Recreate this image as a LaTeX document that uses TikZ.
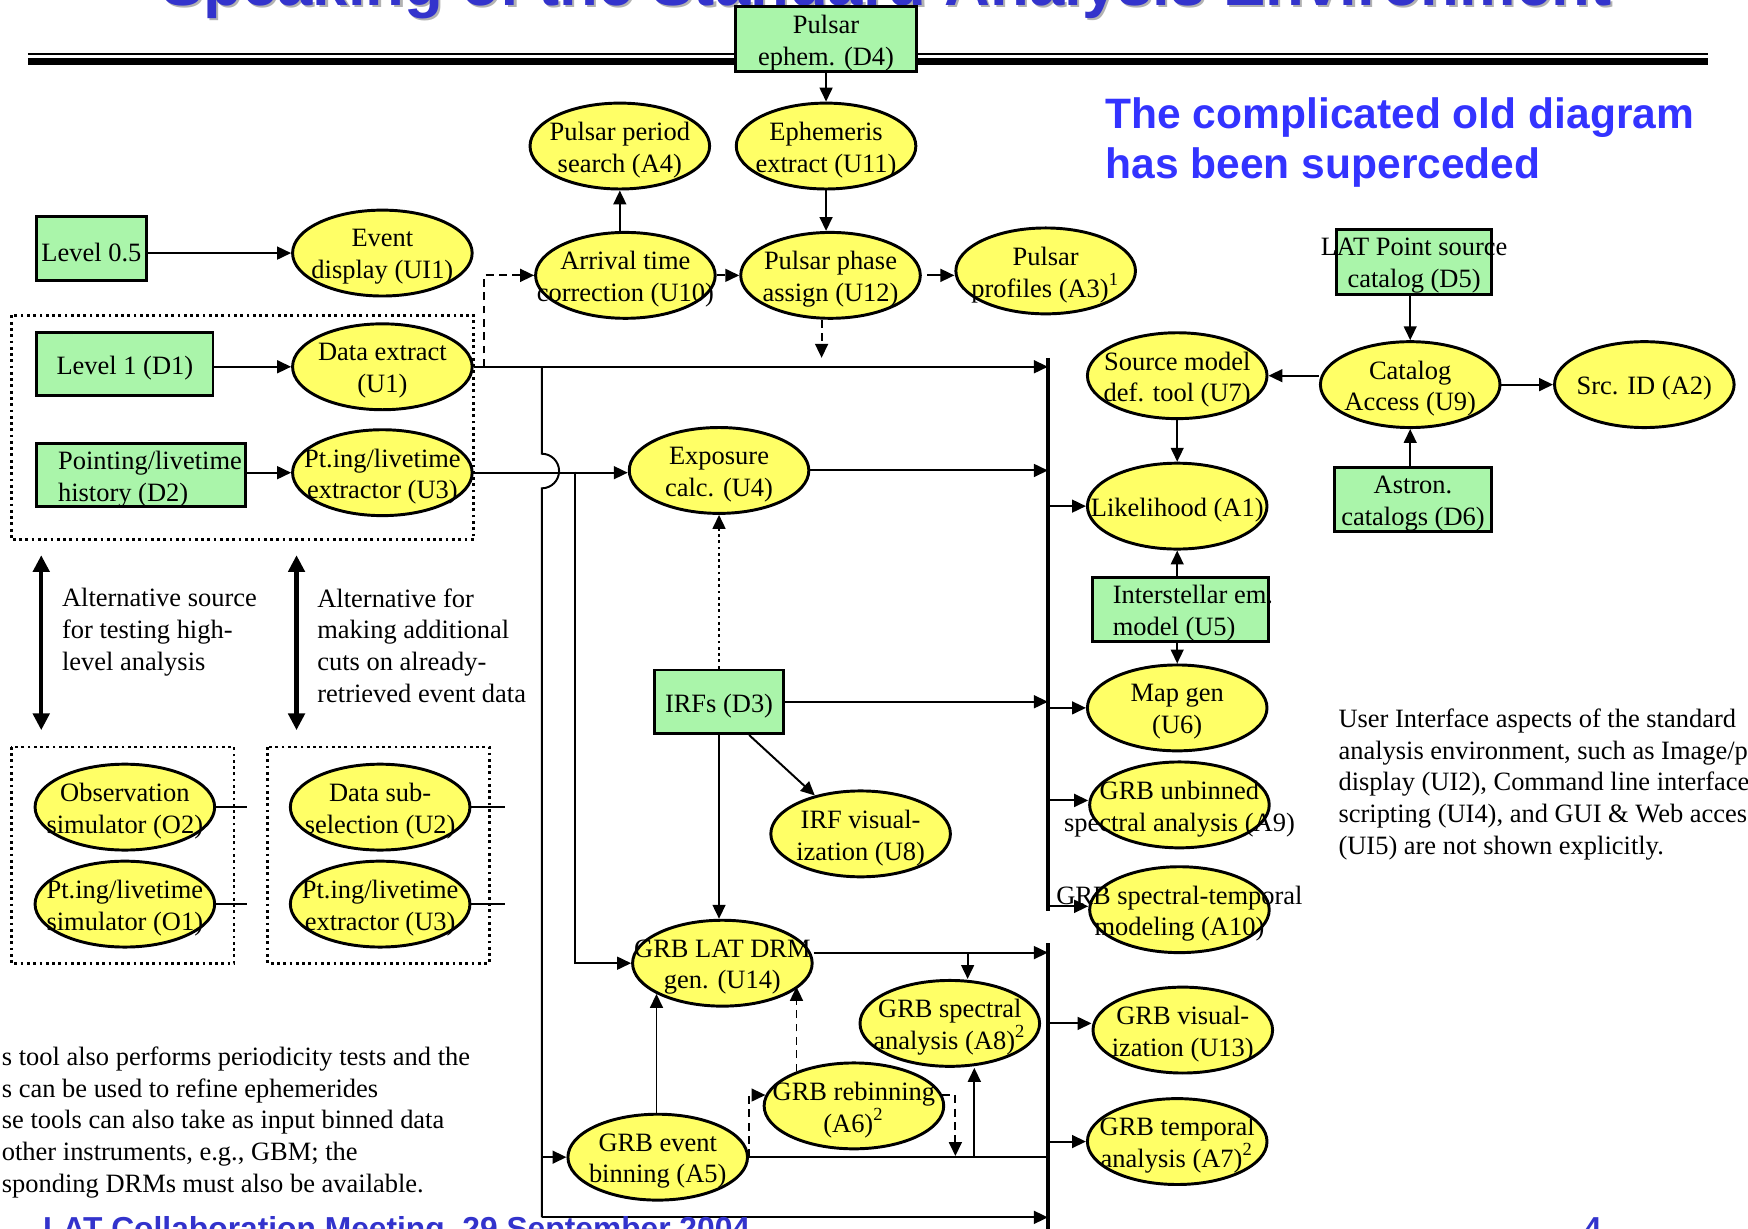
\documentclass[tikz,border=0pt]{standalone}
\usepackage{fontspec}
\setmainfont{Liberation Serif}
\newfontfamily\slidefont{Liberation Sans}
\usepackage{tikz}
\usetikzlibrary{arrows.meta,shapes.geometric,calc}
\definecolor{LATYellow}{RGB}{255,255,102}
\definecolor{LATGreen}{RGB}{170,245,170}
\definecolor{LATBlue}{RGB}{51,51,255}
\definecolor{LATNavy}{RGB}{51,51,204}

\begin{document}
\begin{tikzpicture}[x=0.01cm, y=-0.01cm,
    txt/.style={align=center, inner sep=0pt, yshift=-0.035cm, font=\fontsize{6.75}{8.1}\selectfont},
    note/.style={align=left, inner sep=0pt, anchor=base west, font=\fontsize{6.75}{8.1}\selectfont},
    head/.style={inner sep=0pt, font=\slidefont\bfseries\fontsize{#1}{12.8}\selectfont},
    proc/.style={ellipse, draw, line width=0.75pt, fill=LATYellow, minimum width=1.61cm, minimum height=0.77cm, inner sep=0pt, label={[txt]center:#1}},
    box/.style={rectangle, draw, line width=0.75pt, fill=LATGreen, inner sep=0pt},
    data/.style={box, label={[txt]center:#1}},
    link/.style={line width=0.5pt},
    flow/.style={link, -{Triangle[length=1.25mm,width=1.15mm]}},
    dflow/.style={flow, dash pattern=on 2pt off 1.4pt},
    oflow/.style={flow, dash pattern=on 0.7pt off 0.9pt},
    bus/.style={line width=1.1pt},
    alt/.style={line width=1.1pt, {Triangle[length=1.5mm,width=1.45mm]}-{Triangle[length=1.5mm,width=1.45mm]}},
    grp/.style={line width=0.7pt, dash pattern=on 0.7pt off 0.9pt}
  ]
  \useasboundingbox (0,0) rectangle (1568,1102);
  \clip (0,0) rectangle (1568,1102);

  % slide title and rules
  \node[head=16.2, text=black!30, anchor=base] (titleshade) at (797,6.5) {Speaking of the Standard Analysis Environment};
  \node[head=16.2, text=LATNavy, anchor=base] (title) at (795,4.5) {Speaking of the Standard Analysis Environment};
  \draw[line width=0.68pt] (25,48.4) -- (1532,48.4);
  \draw[line width=1.8pt] (25,55.4) -- (1532,55.4);
  \node[head=10.85, text=LATBlue, align=left, anchor=base west] (claim) at (991,160) {The complicated old diagram\\has been superceded};

  % dotted groups
  \draw[grp] (10,283) rectangle (425,484);
  \draw[grp] (10,670) rectangle (210,864);
  \draw[grp] (240,670) rectangle (439,864);

  % data products
  \node[data={Pulsar\\ephem. (D4)}, minimum width=1.62cm, minimum height=0.58cm] (d4) at (741,35) {};
  \node[data={Level 0.5}, minimum width=0.98cm, minimum height=0.57cm] (lvl) at (82,223) {};
  \node[data={Level 1 (D1)}, minimum width=1.58cm, minimum height=0.56cm] (d1) at (112,326.5) {};
  \node[box, minimum width=1.87cm, minimum height=0.57cm, label={[txt, align=left, xshift=0.08cm]center:Pointing/livetime\\history (D2)}] (d2) at (126.5,426) {};
  \node[data={IRFs (D3)}, minimum width=1.16cm, minimum height=0.57cm] (d3) at (645,629.5) {};
  \node[box, minimum width=1.58cm, minimum height=0.57cm, label={[txt, align=left, xshift=0.11cm]center:Interstellar em.\\model (U5)}] (u5) at (1059,546.5) {};
  \node[data={LAT Point source\\catalog (D5)}, minimum width=1.39cm, minimum height=0.58cm] (d5) at (1268.5,235) {};
  \node[data={Astron.\\catalogs (D6)}, minimum width=1.41cm, minimum height=0.58cm] (d6) at (1267.5,448) {};

  % tools
  \node[proc={Event\\display (UI1)}] (ui1) at (343,227) {};
  \node[proc={Data extract\\(U1)}] (u1) at (343,329) {};
  \node[proc={Pt.ing/livetime\\extractor (U3)}] (u3) at (343,424) {};
  \node[proc={Pulsar period\\search (A4)}] (a4) at (556,131) {};
  \node[proc={Ephemeris\\extract (U11)}] (u11) at (741,131) {};
  \node[proc={Arrival time\\correction (U10)}] (u10) at (561,247) {};
  \node[proc={Pulsar phase\\assign (U12)}] (u12) at (745,247) {};
  \node[proc={Pulsar\\profiles (A3)\textsuperscript{1}}] (a3) at (938,243) {};
  \node[proc={Exposure\\calc. (U4)}] (u4) at (645,422) {};
  \node[proc={IRF visual-\\ization (U8)}] (u8) at (772,748) {};
  \node[proc={GRB LAT DRM\\gen. (U14)}] (u14) at (648,864) {};
  \node[proc={GRB spectral\\analysis (A8)\textsuperscript{2}}] (a8) at (852,918) {};
  \node[proc={GRB rebinning\\(A6)\textsuperscript{2}}] (a6) at (766,992) {};
  \node[proc={GRB event\\binning (A5)}] (a5) at (590,1038) {};
  \node[proc={Source model\\def. tool (U7)}] (u7) at (1056,337) {};
  \node[proc={Likelihood (A1)}] (a1) at (1056,454) {};
  \node[proc={Map gen\\(U6)}] (u6) at (1056,635) {};
  \node[proc={GRB unbinned\\spectral analysis (A9)}] (a9) at (1058,722) {};
  \node[proc={GRB spectral-temporal\\modeling (A10)}] (a10) at (1058,816) {};
  \node[proc={GRB visual-\\ization (U13)}] (u13) at (1061,924) {};
  \node[proc={GRB temporal\\analysis (A7)\textsuperscript{2}}] (a7) at (1056,1024) {};
  \node[proc={Catalog\\Access (U9)}] (u9) at (1265,345) {};
  \node[proc={Src. ID (A2)}] (a2) at (1475,345) {};
  \node[proc={Observation\\simulator (O2)}] (o2) at (112,724) {};
  \node[proc={Pt.ing/livetime\\simulator (O1)}] (o1) at (112,811) {};
  \node[proc={Data sub-\\selection (U2)}] (u2) at (341,724) {};
  \node[proc={Pt.ing/livetime\\extractor (U3)}] (u3b) at (341,811) {};

  % buses and taps
  \coordinate (busAt) at (940,321);
  \coordinate (busAb) at (940,817);
  \coordinate (busBt) at (940,846);
  \coordinate (busBb) at (940,1110);
  \coordinate (tapL) at (486,329);
  \coordinate (hop) at (486,407);
  \coordinate (botL) at (486,1092);
  \coordinate (tapM) at (516,423);
  \coordinate (tapD) at (434,329);
  \coordinate (u12tip) at (737,321);
  \coordinate (tapR) at (868,855);
  \coordinate (a6tip) at (857,1037);
  \coordinate (a8tap) at (874,1038);
  \coordinate (stubL) at (222,724);
  \coordinate (stubR) at (453,724);
  \draw[bus] (busAt) -- (busAb);
  \draw[bus] (busBt) -- (busBb);

  % pulsar branch
  \draw[flow] (d4.south) -- (d4.south |- u11.north);
  \draw[flow] (a4.south |- u10.north) -- (a4.south);
  \draw[flow] (u11.south) -- (u11.south |- u12.north);
  \draw[dflow] (u10.east) -- (u12.west);
  \draw[flow] ([xshift=0.05cm]u12.east) -- (u12.east -| a3.west);
  \draw[dflow] (u12tip |- u12.south) -- (u12tip);

  % event data
  \draw[flow] (lvl.east |- ui1) -- (ui1.west);
  \draw[flow] (d1.east |- u1) -- (u1.west);
  \draw[flow] (d2.east |- u3) -- (u3.west);
  \draw[dflow] (tapD) |- (u10.west);
  \draw[flow] (u1.east) -- (u1.east -| busAt);
  \draw[link] (tapL) -- (hop) arc[start angle=90, end angle=-90, radius=0.155cm] -- (botL);
  \draw[flow] (botL) -- (botL -| busBt);
  \draw[flow] (tapL |- a5) -- (a5.west);
  \draw[flow] (u3.east) -- (u3.east -| u4.west);
  \draw[flow] (tapM) |- (u14.west);
  \draw[flow] (u4.east) -- (u4.east -| busAt);

  % response functions
  \draw[oflow] (d3.north) -- (u4.south);
  \draw[flow] (d3.east) -- (d3.east -| busAt);
  \draw[flow] ([xshift=0.27cm]d3.south) -- (u8.140);
  \draw[flow] (d3.south) -- (d3.south |- u14.north);

  % GRB branch
  \draw[flow] ([yshift=0.095cm]u14.east) -- ([yshift=0.095cm]u14.east -| busBt);
  \draw[flow] (tapR) -- (tapR |- a8.north);
  \draw[flow] (a5.north -| u14.205) -- (u14.205);
  \draw[dflow] (a6.149) -- (a6.149 |- u14.343);
  \draw[dflow] (a5.east) |- (a6.173);
  \draw[dflow] (a6.7) -| (a6tip);
  \draw[link] (a5.east) -- (a5.east -| busBt);
  \draw[flow] (a8tap) -- (a8tap |- a8.south);

  % bus outputs
  \draw[flow] (busAt |- a1) -- (a1.west);
  \draw[flow] (busAt |- u6) -- (u6.west);
  \draw[flow] ([yshift=0.04cm]busAt |- a9) -- ([yshift=0.04cm]a9.west);
  \draw[flow] ([yshift=0.03cm]busAt |- a10) -- ([yshift=0.03cm]a10.west);
  \draw[flow] ([yshift=0.06cm]busBt |- u13) -- ([yshift=0.06cm]u13.west);
  \draw[flow] (busBt |- a7) -- (a7.west);

  % source catalogs
  \draw[flow] (u7.south) -- (a1.north);
  \draw[flow] (u5.north -| a1) -- (a1.south);
  \draw[flow] (u5.south -| u6) -- (u6.north);
  \draw[flow] (u9.west |- u7.east) -- (u7.east);
  \draw[flow] (u9.east) -- (a2.west);
  \draw[flow] (d5.south -| u9) -- (u9.north);
  \draw[flow] (d6.north -| u9) -- (u9.south);

  % alternative inputs
  \draw[link] (o2.east) -- (o2.east -| stubL);
  \draw[link] (o1.east) -- (o1.east -| stubL);
  \draw[link] (u2.east) -- (u2.east -| stubR);
  \draw[link] (u3b.east) -- (u3b.east -| stubR);
  \coordinate (altLa) at (37,498);
  \coordinate (altLb) at (37,655);
  \coordinate (altRa) at (266,498);
  \coordinate (altRb) at (266,655);
  \draw[alt] (altLa) -- (altLb);
  \draw[alt] (altRa) -- (altRb);
  \node[note] (altLtxt) at (55,601) {Alternative source\\for testing high-\\level analysis};
  \node[note] (altRtxt) at (284,630) {Alternative for\\making additional\\cuts on already-\\retrieved event data};

  % notes
  \node[note] (fnotes) at (1,1069.5) {s tool also performs periodicity tests and the\\s can be used to refine ephemerides\\se tools can also take as input binned data\\other instruments, e.g., GBM; the\\sponding DRMs must also be available.};
  \node[note] (uinote) at (1200,766.5) {User Interface aspects of the standard\\analysis environment, such as Image/p\\display (UI2), Command line interface\\scripting (UI4), and GUI \& Web acces\\(UI5) are not shown explicitly.};

  % footer
  \node[head=8.1, text=LATNavy, anchor=base west] (footer) at (38,1112) {LAT Collaboration Meeting, 29 September 2004};
  \node[head=8.1, text=LATNavy, anchor=base west] (pageno) at (1420,1112) {4};
\end{tikzpicture}
\end{document}
